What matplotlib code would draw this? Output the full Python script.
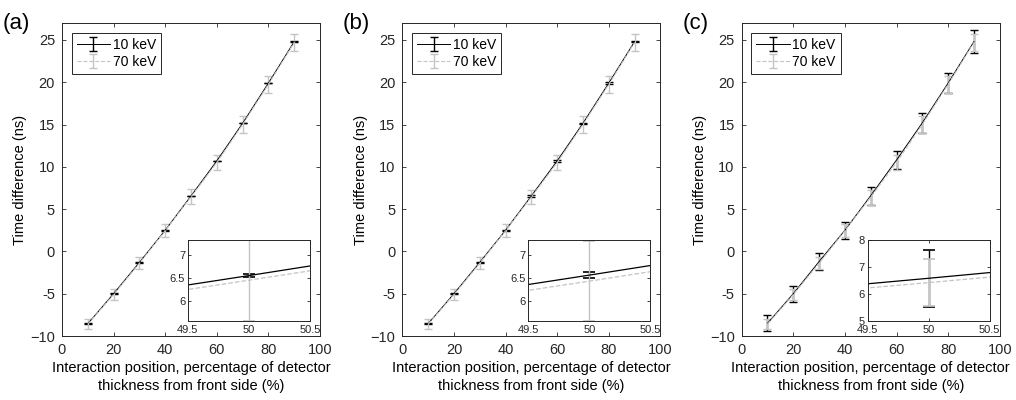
import numpy as np
import matplotlib
matplotlib.use('Agg')
import matplotlib.pyplot as plt

plt.rcParams['font.family'] = ['Liberation Sans', 'DejaVu Sans']
plt.rcParams['axes.unicode_minus'] = True

# interaction position (% of detector thickness)
pos = [10, 20, 30, 40, 50, 60, 70, 80, 90]

# time difference (ns), per panel: 10 keV and 70 keV
t10_a = [-8.55, -5.0, -1.3, 2.5, 6.55, 10.7, 15.15, 19.9, 24.8]
e10_a = [0.03, 0.03, 0.03, 0.03, 0.03, 0.03, 0.03, 0.03, 0.03]
t70_a = [-8.6, -5.1, -1.4, 2.45, 6.45, 10.5, 15.0, 19.75, 24.7]
e70_a = [0.6, 0.65, 0.7, 0.8, 0.87, 0.9, 0.95, 1.0, 1.0]

t10_b = [-8.55, -5.0, -1.3, 2.5, 6.56, 10.7, 15.15, 19.9, 24.8]
e10_b = [0.08, 0.08, 0.08, 0.08, 0.07, 0.08, 0.08, 0.08, 0.08]
t70_b = [-8.6, -5.1, -1.4, 2.45, 6.43, 10.5, 15.0, 19.75, 24.7]
e70_b = [0.6, 0.65, 0.7, 0.8, 0.87, 0.9, 0.95, 1.0, 1.0]

t10_c = [-8.5, -5.0, -1.2, 2.5, 6.58, 10.8, 15.2, 19.9, 24.8]
e10_c = [0.95, 0.95, 1.0, 1.0, 1.05, 1.1, 1.15, 1.2, 1.35]
t70_c = [-8.6, -5.1, -1.4, 2.45, 6.42, 10.5, 15.0, 19.75, 24.7]
e70_c = [0.6, 0.65, 0.7, 0.8, 0.88, 0.9, 0.95, 1.0, 1.0]

panel_labels = ['(a)', '(b)', '(c)']
inset_ylims = [(5.57, 7.32), (5.57, 7.32), (5.0, 8.0)]
inset_yticks = [[6, 6.5, 7], [6, 6.5, 7], [5, 6, 7, 8]]

GRAY = '#c4c4c4'
AXC = '#262626'


def style_axes(ax, size, pad=3):
    ax.tick_params(direction='in', top=True, right=True, colors=AXC,
                   labelsize=size, length=3, width=0.6, pad=pad)
    for s in ax.spines.values():
        s.set_color(AXC)
        s.set_linewidth(0.7)


def draw_panel(ax, t10, e10, t70, e70, label, ilim, iticks):
    h10 = ax.errorbar(pos, t10, yerr=e10, color='black', ls='-', lw=0.7,
                      elinewidth=1.0, capsize=3, capthick=1.0)
    h70 = ax.errorbar(pos, t70, yerr=e70, color=GRAY, ls='--', lw=0.8,
                      elinewidth=1.0, capsize=3, capthick=1.0)
    ax.set_xlim(0, 100)
    ax.set_ylim(-10, 27)
    ax.set_xticks([0, 20, 40, 60, 80, 100])
    ax.set_yticks([-10, -5, 0, 5, 10, 15, 20, 25])
    ax.set_yticklabels(['\u221210', '-5', '0', '5', '10', '15', '20', '25'])
    style_axes(ax, 10.5, pad=5)
    ax.set_ylabel('Time difference (ns)', fontsize=10.5, labelpad=2)
    ax.set_xlabel('Interaction position, percentage of detector\n'
                  'thickness from front side (%)', fontsize=10.5, labelpad=3,
                  linespacing=1.35)
    leg = ax.legend([h10, h70], ['10 keV', '70 keV'], loc='upper left',
                    fontsize=10, fancybox=False, framealpha=1,
                    handlelength=2.4, borderpad=0.35, labelspacing=0.25,
                    handletextpad=0.2, borderaxespad=0.7)
    leg.get_frame().set_edgecolor(AXC)
    leg.get_frame().set_linewidth(0.7)
    ax.text(-0.23, 1.0, label, transform=ax.transAxes, fontsize=16,
            ha='left', va='center')

    ins = ax.inset_axes([0.488, 0.048, 0.473, 0.259])
    ins.errorbar(pos, t10, yerr=e10, color='black', ls='-', lw=0.9,
                 elinewidth=1.0, capsize=4, capthick=1.2)
    ins.errorbar(pos, t70, yerr=e70, color=GRAY, ls='--', lw=0.9,
                 elinewidth=1.0, capsize=4, capthick=1.2)
    ins.set_xlim(49.5, 50.5)
    ins.set_ylim(*ilim)
    ins.set_xticks([49.5, 50, 50.5])
    ins.set_xticklabels(['49.5', '50', '50.5'])
    ins.set_yticks(iticks)
    ins.set_yticklabels([('%g' % v) for v in iticks])
    style_axes(ins, 8, pad=2)
    ins.tick_params(length=2.5)
    ins.tick_params(axis='x', pad=3)


fig = plt.figure(figsize=(10.16, 4.0), dpi=100)
lefts = [0.061, 0.396, 0.730]
data = [(t10_a, e10_a, t70_a, e70_a),
        (t10_b, e10_b, t70_b, e70_b),
        (t10_c, e10_c, t70_c, e70_c)]
for i in range(3):
    ax = fig.add_axes([lefts[i], 0.16, 0.254, 0.7825])
    draw_panel(ax, *data[i], panel_labels[i], inset_ylims[i], inset_yticks[i])

fig.savefig('out.png', dpi=100)
